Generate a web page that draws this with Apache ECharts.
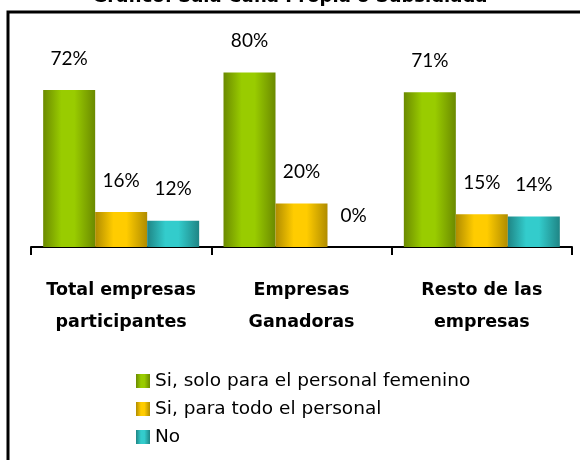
<!DOCTYPE html>
<html>
<head>
<meta charset="utf-8">
<script src="https://cdn.jsdelivr.net/npm/echarts@6/dist/echarts.min.js"></script>
<style>
  html, body { margin: 0; padding: 0; background: #fff; }
  #chart { width: 580px; height: 460px; }
</style>
</head>
<body>
<div id="chart"></div>
<script>
// chart data
var titleText = 'Gráfico: Sala Cuna Propia o Subsidiada';
var categories = ['Total empresas\nparticipantes', 'Empresas\nGanadoras', 'Resto de las\nempresas'];
var seriesNames = ['Si, solo para el personal femenino', 'Si, para todo el personal', 'No'];
var femenino = [72, 80, 71];
var todoPersonal = [16, 20, 15];
var noValues = [12, 0, 14];

// left/right dark, bright middle, like the old excel cylinders
function barGradient(dark, light) {
  return new echarts.graphic.LinearGradient(0, 0, 1, 0, [
    { offset: 0, color: dark },
    { offset: 0.35, color: light },
    { offset: 0.6, color: light },
    { offset: 1, color: dark }
  ]);
}

function makeSeries(name, data, color) {
  return {
    name: name,
    type: 'bar',
    data: data,
    barWidth: 52,
    barGap: '0%',
    itemStyle: { color: color },
    label: {
      show: true,
      position: 'top',
      distance: 22,
      formatter: '{c}%',
      fontFamily: 'Lato',
      fontSize: 19,
      color: '#000'
    }
  };
}

var chart = echarts.init(document.getElementById('chart'), null, { renderer: 'canvas' });

var option = {
  animation: false,
  backgroundColor: '#fff',
  title: {
    text: titleText,
    left: 'center',
    top: -17,
    textStyle: { fontFamily: 'DejaVu Sans', fontSize: 18, fontWeight: 'bold', color: '#000' }
  },
  graphic: [{
    type: 'rect',
    shape: { x: 8, y: 12, width: 600, height: 500 },
    style: { fill: 'none', stroke: '#000', lineWidth: 3 },
    z: 100
  }],
  grid: { left: 31, right: 8, top: 29, bottom: 213 },
  legend: {
    orient: 'vertical',
    left: 131,
    top: 366,
    icon: 'rect',
    itemWidth: 14,
    itemHeight: 14,
    itemGap: 8,
    textStyle: { fontFamily: 'DejaVu Sans', fontSize: 18.5, lineHeight: 20, color: '#000' },
    data: seriesNames
  },
  xAxis: {
    type: 'category',
    data: categories,
    axisLine: { lineStyle: { color: '#000', width: 2 } },
    axisTick: { show: true, interval: 0, length: 8, lineStyle: { color: '#000', width: 2 } },
    axisLabel: {
      interval: 0,
      hideOverlap: false,
      margin: 27,
      lineHeight: 32,
      fontFamily: 'DejaVu Sans',
      fontSize: 17.5,
      fontWeight: 'bold',
      color: '#000'
    }
  },
  yAxis: {
    type: 'value',
    min: 0,
    max: 100,
    show: false,
    splitLine: { show: false }
  },
  series: [
    makeSeries(seriesNames[0], femenino, barGradient('#6b8a00', '#99cc00')),
    makeSeries(seriesNames[1], todoPersonal, barGradient('#b08c00', '#ffcc00')),
    makeSeries(seriesNames[2], noValues, barGradient('#1f8585', '#33cccc'))
  ]
};

chart.setOption(option);
</script>
</body>
</html>
